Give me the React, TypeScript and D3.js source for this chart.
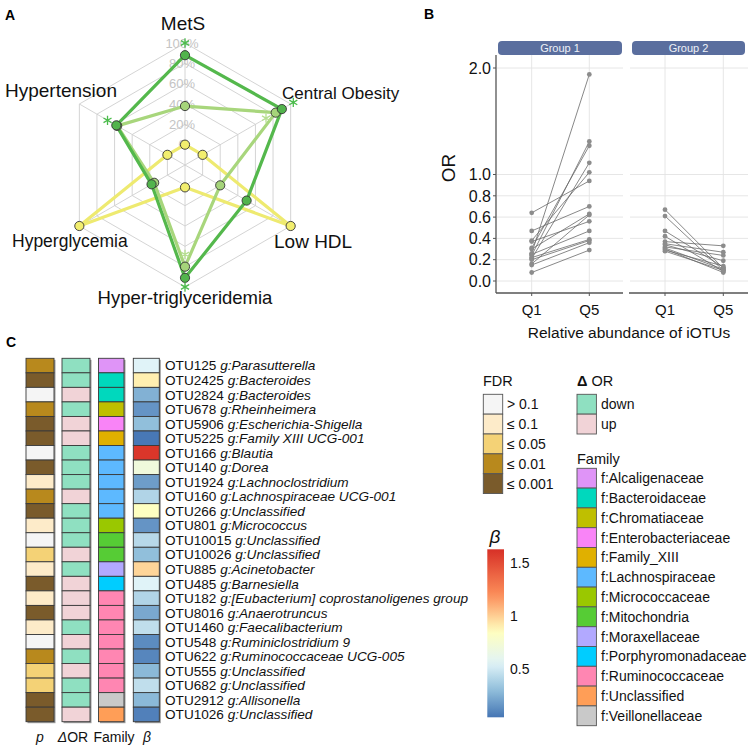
import React from "react";
import * as d3 from "d3";

// ---- Panel A: radar ----
const radarAxes = ["MetS", "Hypertension", "Hyperglycemia", "Hyper-triglyceridemia", "Low HDL", "Central Obesity"];
const darkGreen = [0.88, 0.58, 0.18, 0.91, 0.5, 0.9];
const lightGreen = [0.38, 0.57, 0.15, 0.8, 0.2, 0.83];
const yellow = [0.0, 0.0, 1.0, 0.02, 1.0, 0.0];
const ringLabels = ["0", "20%", "40%", "60%", "80%", "100%"];
// asterisks: axis index, radial value
const starsDark = [[0, 1.0], [1, 0.68], [3, 1.0], [5, 1.03]];
const starsLight = [[3, 0.68], [5, 0.72]];

// ---- Panel B: OR by abundance quintile ----
const quintiles = ["Q1", "Q5"];
const orTicks = [0, 0.2, 0.4, 0.6, 0.8, 1.0, 2.0];
const g1Q1 = [0.64, 0.47, 0.38, 0.37, 0.31, 0.3, 0.26, 0.25, 0.24, 0.22, 0.21, 0.2, 0.16, 0.15, 0.08];
const g1Q5 = [0.94, 0.7, 1.02, 0.56, 1.27, 0.63, 1.94, 0.47, 1.31, 0.39, 1.11, 0.38, 0.62, 0.36, 0.29];
const g2Q1 = [0.67, 0.61, 0.47, 0.42, 0.37, 0.35, 0.34, 0.32, 0.31, 0.3, 0.29, 0.28];
const g2Q5 = [0.12, 0.1, 0.13, 0.09, 0.33, 0.27, 0.19, 0.24, 0.11, 0.08, 0.14, 0.1];

// ---- Panel C: heatmap ----
const otuIds = ["OTU125", "OTU2425", "OTU2824", "OTU678", "OTU5906", "OTU5225", "OTU166", "OTU140", "OTU1924", "OTU160", "OTU266", "OTU801", "OTU10015", "OTU10026", "OTU885", "OTU485", "OTU182", "OTU8016", "OTU1460", "OTU548", "OTU622", "OTU555", "OTU682", "OTU2912", "OTU1026"];
const genera = ["Parasutterella", "Bacteroides", "Bacteroides", "Rheinheimera", "Escherichia-Shigella", "Family XIII UCG-001", "Blautia", "Dorea", "Lachnoclostridium", "Lachnospiraceae UCG-001", "Unclassified", "Micrococcus", "Unclassified", "Unclassified", "Acinetobacter", "Barnesiella", "[Eubacterium] coprostanoligenes group", "Anaerotruncus", "Faecalibacterium", "Ruminiclostridium 9", "Ruminococcaceae UCG-005", "Unclassified", "Unclassified", "Allisonella", "Unclassified"];
const fdrLevels = ["> 0.1", "≤ 0.1", "≤ 0.05", "≤ 0.01", "≤ 0.001"];
const fdrColors = ["#f5f5f5", "#fdebc9", "#f4d276", "#b8891d", "#7a5b2b"];
const fdr = [3, 4, 0, 3, 4, 4, 0, 4, 1, 3, 4, 1, 0, 2, 1, 4, 1, 4, 1, 0, 3, 2, 2, 4, 4];
const deltaLevels = ["down", "up"];
const deltaColors = ["#8fe0c1", "#f1d3d7"];
const delta = ["down", "down", "up", "down", "up", "up", "down", "down", "down", "up", "down", "down", "down", "up", "down", "up", "up", "up", "down", "up", "down", "up", "down", "down", "up"];
const families = ["Alcaligenaceae", "Bacteroidaceae", "Chromatiaceae", "Enterobacteriaceae", "Family_XIII", "Lachnospiraceae", "Micrococcaceae", "Mitochondria", "Moraxellaceae", "Porphyromonadaceae", "Ruminococcaceae", "Unclassified", "Veillonellaceae"];
const familyColors = ["#df94f7", "#00d8bd", "#bfbf00", "#f984f7", "#e0b000", "#5db9ff", "#9ac800", "#56cc35", "#b2a9ff", "#00cdff", "#ff86b2", "#ff9e57", "#c9c9c9"];
const family = ["Alcaligenaceae", "Bacteroidaceae", "Bacteroidaceae", "Chromatiaceae", "Enterobacteriaceae", "Family_XIII", "Lachnospiraceae", "Lachnospiraceae", "Lachnospiraceae", "Lachnospiraceae", "Lachnospiraceae", "Micrococcaceae", "Mitochondria", "Mitochondria", "Moraxellaceae", "Porphyromonadaceae", "Ruminococcaceae", "Ruminococcaceae", "Ruminococcaceae", "Ruminococcaceae", "Ruminococcaceae", "Ruminococcaceae", "Ruminococcaceae", "Veillonellaceae", "Unclassified"];
const beta = [0.55, 0.9, 0.25, 0.15, 0.3, 0.05, 1.6, 0.7, 0.18, 0.4, 0.84, 0.15, 0.42, 0.3, 0.98, 0.55, 0.4, 0.22, 0.45, 0.12, 0.1, 0.28, 0.45, 0.28, 0.08];
const betaTicks = [0.5, 1, 1.5];

const FONT = "'Liberation Sans', Arial, Helvetica, sans-serif";

const betaColor = d3
  .scaleLinear<string>()
  .domain([0.04, 0.3, 0.55, 0.85, 1.2, 1.63])
  .range(["#4575b4", "#91bfdb", "#e0f3f8", "#ffffbf", "#fc8d59", "#d73027"])
  .clamp(true);

const starShape = (d3 as any).symbolAsterisk || d3.symbolCross;
const starPath = d3.symbol(starShape, 60)() || "";

function Radar() {
  const cx = 185, cy = 165, R = 122;
  const r = d3.scaleLinear().domain([0, 1]).range([R / 6, R]);
  const ang = (i: number) => (-i * Math.PI) / 3;
  const pt = (i: number, v: number) => [cx + r(v) * Math.sin(ang(i)), cy - r(v) * Math.cos(ang(i))];
  const line = d3
    .lineRadial<number>()
    .angle((_, i) => ang(i))
    .radius((v) => r(v))
    .curve(d3.curveLinearClosed);
  const rings = d3.range(6).map((k) => k / 5);
  const series = [
    { vals: yellow, color: "#eeea70", fill: "#f2ee6e" },
    { vals: lightGreen, color: "#a8d67c", fill: "#a5d47a" },
    { vals: darkGreen, color: "#54b84c", fill: "#52b44c" },
  ];
  return (
    <g>
      <g transform={`translate(${cx},${cy})`}>
        {rings.map((v, k) => (
          <path key={k} d={line(radarAxes.map(() => v)) || ""} fill="none" stroke="#cfcfcf" strokeWidth={0.9} />
        ))}
        {radarAxes.map((_, i) => (
          <line key={i} x1={0} y1={0} x2={R * Math.sin(ang(i))} y2={-R * Math.cos(ang(i))} stroke="#cfcfcf" strokeWidth={0.9} />
        ))}
      </g>
      {rings.map((v, k) => (
        <text key={k} x={cx - 3} y={cy - r(v)} dy="0.35em" textAnchor="middle" fontSize={13} fill="#c4c4c4">
          {ringLabels[k]}
        </text>
      ))}
      {series.map((s, j) => (
        <path key={j} transform={`translate(${cx},${cy})`} d={line(s.vals) || ""} fill="none" stroke={s.color} strokeWidth={3.2} strokeLinejoin="round" />
      ))}
      {series.map((s, j) =>
        s.vals.map((v, i) => {
          const [x, y] = pt(i, v);
          return <circle key={`${j}-${i}`} cx={x} cy={y} r={4.6} fill={s.fill} stroke="#333" strokeWidth={0.9} />;
        })
      )}
      {starsLight.map(([i, v], k) => {
        const [x, y] = pt(i, v);
        return <path key={`l${k}`} d={starPath} transform={`translate(${x},${y})`} fill="none" stroke="#b6df90" strokeWidth={1.3} />;
      })}
      {starsDark.map(([i, v], k) => {
        const [x, y] = pt(i, v);
        return <path key={`d${k}`} d={starPath} transform={`translate(${x},${y})`} fill="none" stroke="#4cbc4c" strokeWidth={1.3} />;
      })}
      <g fontSize={19} fill="#111">
        <text x={183} y={30} textAnchor="middle">{radarAxes[0]}</text>
        <text x={5} y={97}>{radarAxes[1]}</text>
        <text x={12} y={246.5} fontSize={17.5}>{radarAxes[2]}</text>
        <text x={185} y={304} textAnchor="middle" fontSize={18.5}>{radarAxes[3]}</text>
        <text x={274} y={248}>{radarAxes[4]}</text>
        <text x={282} y={99} fontSize={17}>{radarAxes[5]}</text>
      </g>
    </g>
  );
}

function PanelB() {
  const y = d3.scaleLinear().domain([0, 2]).range([281, 68]);
  const top = 55, bottom = 293;
  const panels = [
    { name: "Group 1", x0: 497, x1: 623, stripX0: 498, stripX1: 622, q1: g1Q1, q5: g1Q5, range: [531.7, 589.3] },
    { name: "Group 2", x0: 630, x1: 748, stripX0: 632, stripX1: 745, q1: g2Q1, q5: g2Q5, range: [665, 723.3] },
  ];
  return (
    <g>
      {panels.map((p) => {
        const x = d3.scalePoint<string>().domain(quintiles).range(p.range as [number, number]);
        return (
          <g key={p.name}>
            {orTicks.map((t) => (
              <line key={t} x1={p.x0} x2={p.x1} y1={y(t)} y2={y(t)} stroke="#e3e3e3" strokeWidth={0.9} />
            ))}
            {quintiles.map((q) => (
              <line key={q} x1={x(q)} x2={x(q)} y1={top} y2={bottom} stroke="#e3e3e3" strokeWidth={0.9} />
            ))}
            <rect x={p.stripX0} y={41} width={p.stripX1 - p.stripX0} height={14} rx={4} fill="#5a6e9e" />
            <text x={(p.stripX0 + p.stripX1) / 2} y={48} dy="0.36em" textAnchor="middle" fontSize={11} fill="#eef1f7">
              {p.name}
            </text>
            {p.q1.map((v, i) => (
              <line key={i} x1={x("Q1")} y1={y(v)} x2={x("Q5")} y2={y(p.q5[i])} stroke="#6a6a6a" strokeWidth={0.8} />
            ))}
            {p.q1.map((v, i) => (
              <circle key={`a${i}`} cx={x("Q1")} cy={y(v)} r={2.4} fill="#8c8c8c" />
            ))}
            {p.q5.map((v, i) => (
              <circle key={`b${i}`} cx={x("Q5")} cy={y(v)} r={2.4} fill="#8c8c8c" />
            ))}
            <line x1={p.x0 - 1} x2={p.x1} y1={bottom} y2={bottom} stroke="#555" strokeWidth={1.3} />
            {quintiles.map((q) => (
              <g key={q}>
                <line x1={x(q)} x2={x(q)} y1={bottom} y2={bottom + 3} stroke="#555" />
                <text x={x(q)} y={315} textAnchor="middle" fontSize={15} fill="#111">{q}</text>
              </g>
            ))}
          </g>
        );
      })}
      <line x1={496} x2={496} y1={top} y2={bottom} stroke="#555" strokeWidth={1.3} />
      {orTicks.map((t) => (
        <g key={t}>
          <line x1={493} x2={496} y1={y(t)} y2={y(t)} stroke="#555" />
          <text x={491} y={y(t)} dy="0.36em" textAnchor="end" fontSize={16} fill="#111">
            {t.toFixed(1)}
          </text>
        </g>
      ))}
      <text transform="translate(455,168) rotate(-90)" textAnchor="middle" fontSize={19} fill="#111">OR</text>
      <text x={629} y={338} textAnchor="middle" fontSize={15.5} fill="#111">Relative abundance of iOTUs</text>
    </g>
  );
}

function PanelC() {
  const yb = d3.scaleBand<string>().domain(otuIds).range([358.3, 721.7]);
  const h = yb.bandwidth();
  const fam = d3.scaleOrdinal<string, string>().domain(families).range(familyColors);
  const dcol = d3.scaleOrdinal<string, string>().domain(deltaLevels).range(deltaColors);
  const cols = [
    { x: 26, w: 28, color: (i: number) => fdrColors[fdr[i]] },
    { x: 62, w: 28, color: (i: number) => dcol(delta[i]) },
    { x: 98.5, w: 25.5, color: (i: number) => fam(family[i]) },
    { x: 133.3, w: 26, color: (i: number) => betaColor(beta[i]) },
  ];
  const betaY = d3.scaleLinear().domain([0.04, 1.63]).range([717.3, 549.3]);
  // gradient stops from top (high beta) to bottom (low beta), offsets ascending
  const stops = d3.range(0, 1.0001, 0.05).map((t) => {
    const v = 1.63 - t * (1.63 - 0.04);
    return { off: `${t * 100}%`, c: betaColor(v) };
  });
  const legRow = 19.85;
  return (
    <g>
      {cols.map((c, ci) => (
        <g key={ci}>
          <rect x={c.x + 1.5} y={358.3 + 1.5} width={c.w} height={721.7 - 358.3} fill="#9a9a9a" />
          {otuIds.map((id, i) => (
            <rect key={id} x={c.x} y={yb(id)} width={c.w} height={h} fill={c.color(i)} stroke="#3a3a3a" strokeWidth={0.9} />
          ))}
        </g>
      ))}
      {otuIds.map((id, i) => (
        <text key={id} x={165} y={(yb(id) || 0) + h / 2} dy="0.36em" fontSize={13.6} fill="#111">
          {id + " "}
          <tspan fontStyle="italic">{"g:" + genera[i]}</tspan>
        </text>
      ))}
      <g fontSize={14} fill="#111">
        <text x={40} y={742} textAnchor="middle" fontStyle="italic">p</text>
        <text x={73} y={742} textAnchor="middle"><tspan fontStyle="italic">Δ</tspan>OR</text>
        <text x={114} y={742} textAnchor="middle">Family</text>
        <text x={147} y={742} textAnchor="middle" fontStyle="italic">β</text>
      </g>

      {/* FDR legend */}
      <text x={483} y={386} fontSize={14.5} fill="#111">FDR</text>
      {fdrLevels.map((l, k) => (
        <g key={l}>
          <rect x={483.3} y={394.3 + k * legRow} width={19.4} height={legRow} fill={fdrColors[k]} stroke="#555" strokeWidth={0.9} />
          <text x={507} y={394.3 + (k + 0.5) * legRow} dy="0.36em" fontSize={14} fill="#111">{l}</text>
        </g>
      ))}

      {/* Delta OR legend */}
      <text x={577} y={386} fontSize={14.5} fill="#111"><tspan fontWeight="bold">Δ</tspan> OR</text>
      {deltaLevels.map((l, k) => (
        <g key={l}>
          <rect x={577} y={394.3 + k * legRow} width={19.4} height={legRow} fill={deltaColors[k]} stroke="#555" strokeWidth={0.9} />
          <text x={601} y={394.3 + (k + 0.5) * legRow} dy="0.36em" fontSize={14} fill="#111">{l}</text>
        </g>
      ))}

      {/* Family legend */}
      <text x={577} y={464} fontSize={14.5} fill="#111">Family</text>
      {families.map((f, k) => (
        <g key={f}>
          <rect x={577} y={468.3 + k * 19.8} width={19.4} height={19.8} fill={familyColors[k]} stroke="#555" strokeWidth={0.9} />
          <text x={601} y={468.3 + (k + 0.5) * 19.8} dy="0.36em" fontSize={14} fill="#111">{"f:" + f}</text>
        </g>
      ))}

      {/* beta colour bar */}
      <defs>
        <linearGradient id="betaGrad" x1="0" y1="0" x2="0" y2="1">
          {stops.map((s, k) => (
            <stop key={k} offset={s.off} stopColor={s.c} />
          ))}
        </linearGradient>
      </defs>
      <text x={495} y={543} textAnchor="middle" fontSize={19} fontStyle="italic" fill="#111">β</text>
      <rect x={487.3} y={549.3} width={16.7} height={168} fill="url(#betaGrad)" />
      {betaTicks.map((t) => (
        <text key={t} x={510} y={betaY(t)} dy="0.36em" fontSize={14} fill="#111">{t}</text>
      ))}
    </g>
  );
}

export default function App() {
  return (
    <svg
      width={753}
      height={750}
      viewBox="0 0 753 750"
      style={{ position: "absolute", left: 0, top: 0, background: "#fff" }}
      fontFamily={FONT}
    >
      <rect width={753} height={750} fill="#fff" />
      <text x={5} y={19.5} fontSize={14} fontWeight="bold">A</text>
      <text x={424} y={19} fontSize={14} fontWeight="bold">B</text>
      <text x={6} y={347} fontSize={14} fontWeight="bold">C</text>
      <Radar />
      <PanelB />
      <PanelC />
    </svg>
  );
}
